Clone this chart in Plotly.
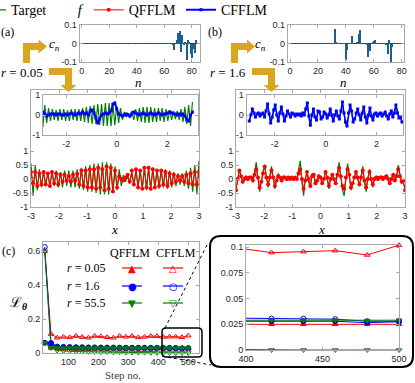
import plotly.graph_objects as go

W, H = 415, 383
SERIF = "Liberation Serif, DejaVu Serif, serif"
SANS = "Liberation Sans, Arial, sans-serif"
GRAY = "#a8a8a8"
TXT = "#262626"
GREEN = "#008000"
RED = "#ff0000"
BLUE = "#0000ff"
GOLD = "#d9a621"
BARC = "#1f5f8f"

# ---------------- panel (a): r = 0.05 ----------------
cn_a_low = [0.001, -0.001, 0.001, 0.0, -0.001, 0.001, 0.002, -0.001, 0.002, -0.002,
            0.001, 0.0, -0.001, 0.001, 0.0, 0.001, -0.001, 0.002, -0.001, 0.0,
            0.001, -0.001, 0.0, 0.001, -0.001, 0.0, 0.001, 0.0, -0.001, 0.001,
            0.0, -0.001, 0.001, 0.0, 0.0, -0.001, 0.001, 0.0, -0.001, 0.0,
            0.001, 0.0, -0.001, 0.0, 0.001, 0.0, 0.0, -0.001, 0.001, 0.0,
            0.0, -0.001, 0.0, 0.001, 0.0, 0.0, -0.001, 0.0, 0.001, 0.0,
            0.0, -0.001, 0.0, 0.001, -0.002, 0.002]
cn_a_high = [-0.01, -0.033, 0.0, 0.02, 0.055, 0.07, -0.045, 0.045, -0.01, 0.005,
             -0.09, 0.02, 0.01, -0.055, -0.08, -0.03, -0.05, 0.02, 0.0]
cn_a = cn_a_low + cn_a_high
n_a = list(range(len(cn_a)))

x_a = [round(-3 + 0.075 * i, 3) for i in range(81)]
target_a = [0.55, -0.6, 0.5, -0.4, 0.35, -0.3, 0.3, -0.25, 0.25, -0.3,
            0.3, -0.25, 0.3, -0.3, 0.25, -0.3, 0.3, -0.25, 0.3, -0.3,
            0.3, -0.3, 0.35, -0.35, 0.4, -0.4, 0.45, -0.45, 0.5, -0.45,
            0.55, -0.5, 0.55, -0.55, 0.6, -0.55, 0.6, -0.55, 0.55, -0.5,
            0.45, -0.4, 0.35, -0.25, 0.15, -0.1, 0.1, -0.15, 0.2, -0.25,
            0.3, -0.3, 0.35, -0.35, 0.4, -0.4, 0.4, -0.4, 0.4, -0.35,
            0.35, -0.35, 0.35, -0.3, 0.35, -0.35, 0.3, -0.3, 0.25, -0.25,
            0.2, -0.2, 0.2, -0.25, 0.3, -0.35, 0.4, -0.45, 0.5, -0.55,
            0.65]
qfflm_a = [0.25, -0.15, 0.25, -0.25, 0.2, -0.2, 0.25, -0.2, 0.2, -0.25,
           0.25, -0.15, 0.2, -0.2, 0.15, -0.1, 0.15, -0.05, 0.1, -0.1,
           0.15, -0.05, 0.2, -0.2, 0.3, -0.25, 0.3, -0.3, 0.35, -0.3,
           0.35, -0.35, 0.4, -0.3, 0.35, -0.4, 0.45, -0.35, 0.4, -0.45,
           0.3, -0.3, 0.1, 0.0, -0.05, 0.05, 0.15, -0.1, 0.3, -0.2,
           0.35, -0.3, 0.3, -0.35, 0.4, -0.3, 0.4, -0.35, 0.35, -0.3,
           0.3, -0.25, 0.3, -0.2, 0.25, -0.25, 0.2, -0.15, 0.15, -0.1,
           0.1, -0.05, 0.1, -0.1, 0.15, -0.15, 0.2, -0.2, 0.25, -0.2,
           0.25]
cfflm_a = [0.15, 0.15, 0.05, -0.05, 0.0, 0.05, 0.05, 0.05, 0.0, 0.05,
           0.05, 0.0, 0.0, 0.05, 0.0, 0.05, 0.1, 0.05, 0.0, 0.05,
           0.1, 0.05, 0.15, 0.05, 0.1, 0.0, 0.2, 0.25, 0.1, -0.15,
           -0.4, -0.2, 0.0, 0.05, 0.1, 0.05, 0.1, 0.2, 0.55, 0.6,
           0.3, 0.05, 0.0, -0.05, 0.0, 0.05, 0.0, -0.05, 0.05, 0.15,
           0.1, 0.05, 0.0, 0.05, 0.1, 0.05, 0.0, 0.05, 0.1, 0.05,
           0.0, 0.05, 0.1, 0.05, 0.0, 0.05, 0.05, 0.1, 0.15, 0.1,
           0.05, 0.05, 0.0, 0.05, 0.0, 0.05, -0.05, -0.25, -0.3, 0.0,
           0.15]

# ---------------- panel (b): r = 1.6 ----------------
cn_b = [0.0, 0.001, 0.0, -0.001, 0.0, 0.001, 0.0, 0.0, -0.001, 0.0,
        0.001, 0.0, 0.0, -0.001, 0.0, 0.001, 0.0, 0.0, -0.001, 0.0,
        0.001, 0.0, -0.001, 0.0, 0.001, 0.0, 0.0, -0.001, 0.0, 0.001,
        0.0, -0.002, 0.076, 0.003, 0.0, 0.001, -0.001, 0.0, 0.001, -0.002,
        -0.087, -0.036, 0.0, 0.002, 0.04, 0.001, 0.0, -0.001, 0.003, 0.05,
        0.073, 0.002, 0.0, -0.001, 0.0, -0.003, -0.073, -0.04, 0.002, 0.01,
        0.015, 0.02, 0.001, 0.0, -0.001, 0.0, 0.001, 0.0, -0.002, -0.003,
        -0.055, 0.02, -0.1, -0.02, 0.002, 0.0, -0.001, 0.0, 0.001, 0.0,
        0.0]
n_b = list(range(len(cn_b)))

x_b = [round(-3 + 0.06 * i, 2) for i in range(101)]
target_b = [-0.35, 0.05, 0.35, 0.1, -0.15, 0.05, 0.1, -0.05, 0.05, 0.1,
            -0.1, 0.2, 0.6, 0.0, -0.45, -0.1, 0.3, 0.5, 0.0, -0.3,
            0.1, 0.45, 0.05, -0.35, -0.05, 0.2, 0.05, -0.1, 0.1, 0.05,
            -0.05, 0.05, 0.0, 0.05, -0.05, 0.1, 0.0, 0.3, 0.65, -0.1,
            -0.6, 0.0, 0.3, -0.1, -0.3, 0.2, 0.15, -0.2, -0.1, 0.15,
            0.05, -0.2, 0.0, 0.3, 0.0, -0.35, 0.0, 0.2, -0.05, -0.2,
            0.2, 0.6, 0.1, -0.4, -0.6, 0.1, 0.55, 0.2, -0.4, -0.2,
            0.1, 0.3, 0.0, -0.25, 0.1, 0.45, -0.1, -0.45, 0.0, 0.35,
            -0.05, -0.3, 0.05, 0.1, -0.05, 0.05, 0.1, -0.05, 0.05, 0.15,
            -0.05, -0.2, 0.05, 0.2, -0.1, 0.1, 0.5, 0.1, -0.15, -0.1,
            -0.35]
qfflm_b = [-0.4, 0.0, 0.3, 0.1, -0.1, 0.0, 0.05, 0.0, 0.05, 0.05,
           -0.05, 0.15, 0.35, 0.05, -0.3, -0.1, 0.2, 0.45, 0.05, -0.2,
           0.05, 0.3, 0.05, -0.25, -0.05, 0.1, 0.05, -0.05, 0.05, 0.05,
           0.0, 0.05, 0.0, 0.05, 0.0, 0.05, 0.0, 0.2, 0.35, 0.0,
           -0.35, -0.05, 0.25, 0.0, -0.25, 0.1, 0.15, -0.15, -0.05, 0.1,
           0.05, -0.15, 0.0, 0.25, 0.05, -0.25, 0.0, 0.15, 0.0, -0.15,
           0.15, 0.4, 0.1, -0.25, -0.35, 0.05, 0.35, 0.15, -0.3, -0.15,
           0.05, 0.25, 0.05, -0.2, 0.05, 0.3, -0.05, -0.3, 0.0, 0.25,
           0.0, -0.2, 0.0, 0.05, 0.0, 0.05, 0.05, 0.0, 0.05, 0.1,
           0.0, -0.15, 0.0, 0.15, -0.05, 0.1, 0.35, 0.1, -0.1, -0.05,
           -0.4]
cfflm_b = [-0.3, 0.0, 0.3, 0.1, -0.1, 0.05, 0.1, -0.05, 0.05, 0.1,
           -0.1, 0.2, 0.55, 0.05, -0.4, -0.1, 0.25, 0.5, 0.0, -0.3,
           0.1, 0.4, 0.05, -0.3, -0.05, 0.2, 0.05, -0.1, 0.1, 0.05,
           -0.05, 0.05, 0.0, 0.05, -0.05, 0.1, 0.0, 0.3, 0.6, -0.05,
           -0.5, 0.0, 0.3, -0.1, -0.25, 0.2, 0.15, -0.2, -0.1, 0.15,
           0.05, -0.15, 0.0, 0.3, 0.0, -0.3, 0.0, 0.2, -0.05, -0.2,
           0.2, 0.65, 0.1, -0.35, -0.55, 0.1, 0.5, 0.2, -0.35, -0.2,
           0.1, 0.3, 0.0, -0.25, 0.1, 0.4, -0.1, -0.4, 0.0, 0.35,
           -0.05, -0.25, 0.05, 0.1, -0.05, 0.05, 0.1, -0.05, 0.05, 0.15,
           -0.05, -0.2, 0.05, 0.2, -0.1, 0.1, 0.5, 0.1, -0.15, -0.1,
           -0.35]

# ---------------- panel (c): loss vs step ----------------
steps = [20.8, 41.7, 62.5, 83.3, 104.2, 125.0, 145.8, 166.7, 187.5, 208.3,
         229.2, 250.0, 270.8, 291.7, 312.5, 333.3, 354.2, 375.0, 395.8, 416.7,
         437.5, 458.3, 479.2, 500.0]
loss_q_005 = [0.062, 0.03, 0.026, 0.025, 0.026, 0.025, 0.025, 0.026, 0.025, 0.025,
              0.025, 0.026, 0.025, 0.025, 0.025, 0.025, 0.025, 0.025, 0.025, 0.025,
              0.025, 0.025, 0.025, 0.025]
loss_c_005 = [0.6, 0.112, 0.09, 0.095, 0.092, 0.1, 0.094, 0.09, 0.1, 0.098,
              0.093, 0.09, 0.1, 0.096, 0.1, 0.092, 0.095, 0.1, 0.099, 0.0948,
              0.0957, 0.0967, 0.0925, 0.102]
loss_q_16 = [0.06, 0.055, 0.035, 0.034, 0.033, 0.032, 0.032, 0.031, 0.031, 0.03,
             0.03, 0.03, 0.03, 0.029, 0.029, 0.029, 0.029, 0.028, 0.028, 0.028,
             0.028, 0.028, 0.0266, 0.0275]
loss_c_16 = [0.625, 0.06, 0.038, 0.036, 0.035, 0.034, 0.034, 0.033, 0.033, 0.032,
             0.032, 0.032, 0.031, 0.031, 0.031, 0.031, 0.031, 0.031, 0.031, 0.0305,
             0.0305, 0.03, 0.028, 0.028]
loss_q_555 = [0.06, 0.03, 0.03, 0.029, 0.03, 0.029, 0.029, 0.029, 0.029, 0.029,
              0.029, 0.029, 0.029, 0.029, 0.029, 0.029, 0.029, 0.029, 0.029, 0.029,
              0.029, 0.029, 0.0285, 0.029]
loss_c_555 = [0.6, 0.035, 0.015, 0.012, 0.01, 0.008, 0.008, 0.007, 0.006, 0.005,
              0.005, 0.004, 0.004, 0.003, 0.003, 0.002, 0.002, 0.001, 0.0005, 0.0,
              0.0, 0.0, 0.0, 0.0]


def px(x):
    return x / W


def py(y):
    return 1 - y / H


def pt(x, y):
    return f"{px(x):.4f},{py(y):.4f}"


def poly(points):
    return "M " + " L ".join(pt(x, y) for x, y in points) + " Z"


def rrect(x0, y0, x1, y1, r):
    return (f"M {pt(x0 + r, y0)} L {pt(x1 - r, y0)} Q {pt(x1, y0)} {pt(x1, y0 + r)} "
            f"L {pt(x1, y1 - r)} Q {pt(x1, y1)} {pt(x1 - r, y1)} "
            f"L {pt(x0 + r, y1)} Q {pt(x0, y1)} {pt(x0, y1 - r)} "
            f"L {pt(x0, y0 + r)} Q {pt(x0, y0)} {pt(x0 + r, y0)} Z")


def axis(dom, rng, anchor, vertical=False, **kw):
    d = dict(domain=[px(dom[0]), px(dom[1])] if not vertical else [py(dom[1]), py(dom[0])],
             range=rng, anchor=anchor, showline=True, linecolor=GRAY, linewidth=1,
             mirror="ticks", ticks="inside", ticklen=3, tickcolor=GRAY,
             tickfont=dict(family=SANS, size=9, color=TXT),
             showgrid=False, zeroline=False)
    d.update(kw)
    return d


def ann(text, x, y, size=12, xanchor="center", family=SERIF, color="black", **kw):
    d = dict(text=text, x=px(x), y=py(y), xref="paper", yref="paper",
             showarrow=False, xanchor=xanchor, yanchor="middle",
             font=dict(family=family, size=size, color=color))
    d.update(kw)
    return d


fig = go.Figure()

# coefficient bars
fig.add_trace(go.Bar(x=n_a, y=cn_a, width=0.9, marker=dict(color=BARC, line=dict(width=0)),
                     xaxis="x", yaxis="y", showlegend=False))
fig.add_trace(go.Bar(x=n_b, y=cn_b, width=0.9, marker=dict(color=BARC, line=dict(width=0)),
                     xaxis="x2", yaxis="y2", showlegend=False))

# (a) main: target + QFFLM, inset: target + CFFLM
fig.add_trace(go.Scatter(x=x_a, y=target_a, mode="lines", name="Target\u2003\u2003 <i>f</i>",
                         line=dict(color=GREEN, width=1.2), xaxis="x3", yaxis="y3"))
fig.add_trace(go.Scatter(x=x_a, y=qfflm_a, mode="lines+markers", name="QFFLM",
                         line=dict(color=RED, width=1), marker=dict(color=RED, size=4),
                         xaxis="x3", yaxis="y3"))
fig.add_trace(go.Scatter(x=x_a, y=target_a, mode="lines", showlegend=False,
                         line=dict(color=GREEN, width=1.2), xaxis="x4", yaxis="y4"))
fig.add_trace(go.Scatter(x=x_a, y=cfflm_a, mode="lines+markers", name="CFFLM",
                         line=dict(color=BLUE, width=2), marker=dict(color=BLUE, size=3, symbol="square"),
                         xaxis="x4", yaxis="y4"))

# (b)
fig.add_trace(go.Scatter(x=x_b, y=target_b, mode="lines", showlegend=False,
                         line=dict(color=GREEN, width=1.2), xaxis="x5", yaxis="y5"))
fig.add_trace(go.Scatter(x=x_b, y=qfflm_b, mode="lines+markers", showlegend=False,
                         line=dict(color=RED, width=1), marker=dict(color=RED, size=4),
                         xaxis="x5", yaxis="y5"))
fig.add_trace(go.Scatter(x=x_b, y=target_b, mode="lines", showlegend=False,
                         line=dict(color=GREEN, width=1.2), xaxis="x6", yaxis="y6"))
fig.add_trace(go.Scatter(x=x_b, y=cfflm_b, mode="lines+markers", showlegend=False,
                         line=dict(color=BLUE, width=1.5), marker=dict(color=BLUE, size=3, symbol="square"),
                         xaxis="x6", yaxis="y6"))

# (c) loss curves
loss_series = [
    (loss_c_005, RED, "triangle-up-open"),
    (loss_c_16, BLUE, "circle-open"),
    (loss_c_555, GREEN, "triangle-down-open"),
    (loss_q_005, RED, "triangle-up"),
    (loss_q_16, BLUE, "circle"),
    (loss_q_555, GREEN, "triangle-down"),
]
for vals, col, sym in loss_series:
    fig.add_trace(go.Scatter(x=steps, y=vals, mode="lines+markers", showlegend=False,
                             line=dict(color=col, width=1), cliponaxis=False,
                             marker=dict(color=col, size=5, symbol=sym, line=dict(color=col, width=1)),
                             xaxis="x7", yaxis="y7"))
# zoomed inset of the last steps
tail = steps.index(395.8)
for vals, col, sym in loss_series:
    fig.add_trace(go.Scatter(x=steps[tail:], y=vals[tail:], mode="lines", showlegend=False,
                             line=dict(color=col, width=1), xaxis="x8", yaxis="y8"))
    fig.add_trace(go.Scatter(x=steps[tail + 1:], y=vals[tail + 1:], mode="markers", showlegend=False,
                             cliponaxis=False,
                             marker=dict(color=col, size=5, symbol=sym, line=dict(color=col, width=1)),
                             xaxis="x8", yaxis="y8"))

neg1 = dict(tickvals=[-1, 0, 1], ticktext=["-1", "0", "1"])
main_y = dict(tickvals=[-1, -0.5, 0, 0.5, 1], ticktext=["-1", "-0.5", "0", "0.5", "1"])
main_x = dict(tickvals=[-3, -2, -1, 0, 1, 2, 3], ticktext=["-3", "-2", "-1", "0", "1", "2", "3"])
cn_y = dict(tickvals=[-0.1, 0, 0.1], ticktext=["-0.1", "0", "0.1"])
cn_x = dict(tickvals=[0, 20, 40, 60, 80])

fig.update_layout(
    width=W, height=H, autosize=False,
    margin=dict(l=0, r=0, t=0, b=0, autoexpand=False),
    paper_bgcolor="white", plot_bgcolor="white",
    bargap=0,
    xaxis=axis((79.5, 199.5), [-1.6, 85.7], "y", **cn_x),
    yaxis=axis((25, 62), [-0.1, 0.1], "x", vertical=True, zeroline=True,
               zerolinecolor="#1b3f5f", zerolinewidth=1, **cn_y),
    xaxis2=axis((287.7, 404.3), [-1.65, 81.9], "y2", **cn_x),
    yaxis2=axis((25, 62), [-0.1, 0.1], "x2", vertical=True, zeroline=True,
                zerolinecolor="#1b3f5f", zerolinewidth=1, **cn_y),
    xaxis3=axis((31, 199), [-3, 3], "y3", **main_x),
    yaxis3=axis((90, 207), [-1, 3.18], "x3", vertical=True, **main_y),
    xaxis4=axis((43, 198), [-2.92, 3.22], "y4", tickvals=[-2, 0, 2], ticktext=["-2", "0", "2"]),
    yaxis4=axis((95, 135), [-1, 1], "x4", vertical=True, **neg1),
    xaxis5=axis((236, 405), [-3, 3], "y5", **main_x),
    yaxis5=axis((90, 207), [-1, 3.18], "x5", vertical=True, **main_y),
    xaxis6=axis((246.5, 403), [-3.11, 3.04], "y6", tickvals=[-2, 0, 2], ticktext=["-2", "0", "2"]),
    yaxis6=axis((95, 135), [-1, 1], "x6", vertical=True, **neg1),
    xaxis7=axis((43, 199), [15, 536], "y7", tickvals=[100, 200, 300, 400, 500]),
    yaxis7=axis((242, 353), [0, 0.655], "x7", vertical=True, tickvals=[0, 0.2, 0.4, 0.6]),
    xaxis8=axis((246, 399), [400, 500], "y8", tickvals=[400, 450, 500]),
    yaxis8=axis((245, 350), [0, 0.1022], "x8", vertical=True,
                tickvals=[0, 0.025, 0.05, 0.075, 0.1], ticktext=["0", "0.025", "0.05", "0.075", "0.1"]),
    legend=dict(orientation="h", x=-0.07, y=1.015, xanchor="left", yanchor="top",
                font=dict(family=SERIF, size=14, color="black"), bgcolor="rgba(0,0,0,0)",
                itemwidth=30, tracegroupgap=0),
)

shapes = []
# gold arrows
gold_arrows = [
    [(23, 63), (23, 43), (38.5, 43), (38.5, 39.5), (47, 46.5), (38.5, 53.5), (38.5, 50), (30, 50), (30, 63)],
    [(49, 68), (72, 68), (72, 85), (76.5, 85), (68.5, 92), (60.5, 85), (65, 85), (65, 75), (49, 75)],
    [(231, 63), (231, 43), (247, 43), (247, 39.5), (255, 46.5), (247, 53.5), (247, 50), (238, 50), (238, 63)],
    [(252, 68), (275, 68), (275, 85), (279.5, 85), (271.5, 92), (263.5, 85), (268, 85), (268, 75), (252, 75)],
]
for a in gold_arrows:
    shapes.append(dict(type="path", path=poly(a), xref="paper", yref="paper",
                       fillcolor=GOLD, line=dict(width=0)))
# zoom boxes and connectors
shapes.append(dict(type="path", path=rrect(162, 328, 202, 357, 4), xref="paper", yref="paper",
                   line=dict(color="black", width=1.5)))
shapes.append(dict(type="path", path=rrect(210, 236, 413, 367, 11), xref="paper", yref="paper",
                   line=dict(color="black", width=2)))
shapes.append(dict(type="line", x0=px(165), y0=py(328), x1=px(208), y1=py(243), xref="paper", yref="paper",
                   line=dict(color="black", width=1, dash="dot")))
shapes.append(dict(type="line", x0=px(162), y0=py(356), x1=px(211), y1=py(365), xref="paper", yref="paper",
                   line=dict(color="black", width=1, dash="dot")))
# legend samples for (c)
rows = [268, 286, 303]
row_cols = [RED, BLUE, GREEN]
for yy, col in zip(rows, row_cols):
    for x0, x1 in [(122, 142), (163, 183)]:
        shapes.append(dict(type="line", x0=px(x0), y0=py(yy), x1=px(x1), y1=py(yy),
                           xref="paper", yref="paper", line=dict(color=col, width=1.2)))

annotations = [
    ann("(a)", 7, 32), ann("(b)", 215, 32), ann("(c)", 8, 251),
    ann("<i>c<sub>n</sub></i>", 54, 44, size=13),
    ann("<i>c<sub>n</sub></i>", 260, 44, size=13),
    ann("<i>n</i>", 138, 81.5, size=13, height=10), ann("<i>n</i>", 343, 81.5, size=13, height=10),
    ann("<i>r</i> = 0.05", 45, 72, size=13, xanchor="right"),
    ann("<i>r</i> = 1.6", 248, 72, size=13, xanchor="right"),
    ann("<i>x</i>", 114, 229, size=13, height=10), ann("<i>x</i>", 321, 229, size=13, height=10),
    ann("Step no.", 123, 375, size=11, color="#404040"),
    ann("ℒ<sub><b><i>θ</i></b></sub>", 18, 303, size=14),
    ann("QFFLM", 130, 253, size=12), ann("CFFLM", 176, 253, size=12),
    ann("<i>r</i> = 0.05", 65, 268, size=12, xanchor="left"),
    ann("<i>r</i> = 1.6", 65, 286, size=12, xanchor="left"),
    ann("<i>r</i> = 55.5", 65, 303, size=12, xanchor="left"),
]
glyphs = [("▲", "△", RED), ("●", "○", BLUE), ("▼", "▽", GREEN)]
for yy, (filled, hollow, col) in zip(rows, glyphs):
    annotations.append(ann(filled, 132, yy, size=10, family="DejaVu Sans", color=col))
    annotations.append(ann(hollow, 173, yy, size=10, family="DejaVu Sans", color=col))

fig.update_layout(shapes=shapes, annotations=annotations)

# the page body has a default 8px margin; drop it so the figure sits at the window origin
fig.write_html("out.html", config={"displayModeBar": False},
               post_script="document.body.style.margin='0px';document.body.style.overflow='hidden';")
